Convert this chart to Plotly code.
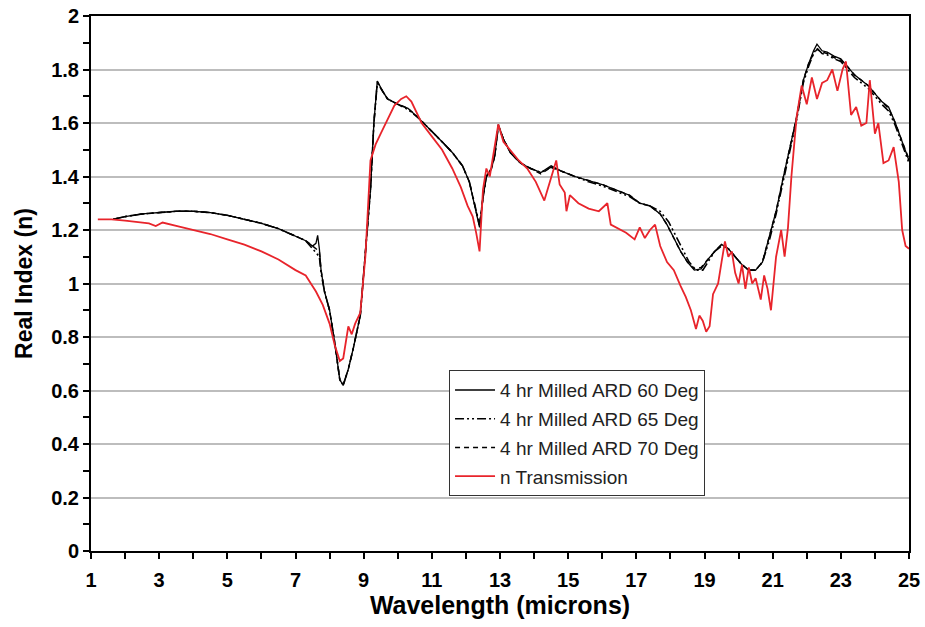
import plotly.graph_objects as go

# ---------------- data ----------------
wl_60 = [1.65, 2.0, 2.5, 3.0, 3.5, 4.0, 4.5, 5.0, 5.5, 6.0, 6.5, 7.0, 7.3, 7.5, 7.6, 7.65, 7.7,
         7.75, 7.85, 8.0, 8.15, 8.3, 8.4, 8.55, 8.7, 8.9, 9.05, 9.2, 9.3, 9.4, 9.55, 9.7, 10.0,
         10.3, 10.6, 11.0, 11.3, 11.6, 11.9, 12.1, 12.25, 12.4, 12.5, 12.6, 12.75, 12.85, 12.95,
         13.1, 13.3, 13.6, 13.9, 14.2, 14.5, 14.8, 15.2, 15.6, 16.0, 16.4, 16.8, 17.1, 17.4, 17.7,
         17.9, 18.1, 18.3, 18.5, 18.7, 18.9, 19.1, 19.3, 19.5, 19.7, 19.9, 20.1, 20.3, 20.5, 20.7,
         20.9, 21.1, 21.3, 21.5, 21.7, 21.9, 22.05, 22.2, 22.3, 22.45, 22.6, 22.8, 23.0, 23.2,
         23.4, 23.6, 23.8, 24.0, 24.2, 24.4, 24.6, 24.8, 25.0]
n_60 = [1.24, 1.25, 1.26, 1.265, 1.27, 1.27, 1.265, 1.255, 1.24, 1.225, 1.205, 1.175, 1.16, 1.14,
        1.15, 1.18, 1.13, 1.05, 0.97, 0.90, 0.78, 0.64, 0.62, 0.68, 0.76, 0.88, 1.10, 1.35, 1.60,
        1.757, 1.72, 1.69, 1.67, 1.655, 1.62, 1.57, 1.53, 1.49, 1.44, 1.38, 1.30, 1.21, 1.32, 1.40,
        1.43, 1.48, 1.595, 1.54, 1.49, 1.45, 1.43, 1.415, 1.44, 1.42, 1.40, 1.385, 1.37, 1.35,
        1.33, 1.30, 1.29, 1.26, 1.22, 1.17, 1.12, 1.08, 1.05, 1.055, 1.09, 1.12, 1.146, 1.13, 1.10,
        1.07, 1.05, 1.05, 1.08, 1.17, 1.27, 1.39, 1.50, 1.62, 1.76, 1.82, 1.87, 1.895, 1.87, 1.865,
        1.85, 1.84, 1.81, 1.78, 1.76, 1.74, 1.71, 1.68, 1.66, 1.60, 1.53, 1.46]

wl_65 = [1.65, 2.0, 2.5, 3.0, 3.5, 4.0, 4.5, 5.0, 5.5, 6.0, 6.5, 7.0, 7.3, 7.5, 7.7, 7.75, 7.85,
         8.0, 8.15, 8.3, 8.4, 8.55, 8.7, 8.9, 9.05, 9.2, 9.3, 9.4, 9.55, 9.7, 10.0, 10.3, 10.6,
         11.0, 11.3, 11.6, 11.9, 12.1, 12.25, 12.4, 12.5, 12.6, 12.75, 12.85, 12.95, 13.1, 13.3,
         13.6, 13.9, 14.2, 14.5, 14.8, 15.2, 15.6, 16.0, 16.4, 16.8, 17.1, 17.4, 17.7, 17.95, 18.15,
         18.35, 18.55, 18.75, 18.95, 19.1, 19.3, 19.5, 19.7, 19.9, 20.1, 20.3, 20.5, 20.7, 20.9,
         21.1, 21.3, 21.5, 21.7, 21.9, 22.05, 22.2, 22.3, 22.45, 22.6, 22.8, 23.0, 23.2, 23.4,
         23.6, 23.8, 24.0, 24.2, 24.4, 24.6, 24.8, 25.0]
n_65 = [1.24, 1.25, 1.26, 1.265, 1.27, 1.27, 1.265, 1.255, 1.24, 1.225, 1.205, 1.175, 1.16, 1.13,
        1.10, 1.04, 0.97, 0.90, 0.78, 0.64, 0.62, 0.68, 0.76, 0.88, 1.10, 1.35, 1.60, 1.75, 1.72,
        1.69, 1.67, 1.65, 1.62, 1.57, 1.53, 1.49, 1.44, 1.38, 1.30, 1.22, 1.32, 1.40, 1.43, 1.48,
        1.59, 1.54, 1.49, 1.45, 1.43, 1.415, 1.435, 1.42, 1.40, 1.38, 1.365, 1.345, 1.325, 1.30,
        1.29, 1.27, 1.23, 1.18, 1.13, 1.08, 1.05, 1.05, 1.08, 1.12, 1.14, 1.13, 1.10, 1.07, 1.05,
        1.05, 1.08, 1.16, 1.26, 1.38, 1.50, 1.61, 1.75, 1.81, 1.86, 1.88, 1.86, 1.855, 1.84, 1.83,
        1.80, 1.77, 1.75, 1.73, 1.70, 1.67, 1.645, 1.59, 1.52, 1.45]

wl_70 = [1.65, 2.0, 2.5, 3.0, 3.5, 4.0, 4.5, 5.0, 5.5, 6.0, 6.5, 7.0, 7.3, 7.5, 7.7, 7.75, 7.85,
         8.0, 8.15, 8.3, 8.4, 8.55, 8.7, 8.9, 9.05, 9.2, 9.3, 9.4, 9.55, 9.7, 10.0, 10.3, 10.6,
         11.0, 11.3, 11.6, 11.9, 12.1, 12.25, 12.4, 12.5, 12.6, 12.75, 12.85, 12.95, 13.1, 13.3,
         13.6, 13.9, 14.2, 14.5, 14.8, 15.2, 15.6, 16.0, 16.4, 16.8, 17.1, 17.4, 17.7, 17.9, 18.1,
         18.3, 18.5, 18.7, 18.9, 19.1, 19.3, 19.5, 19.7, 19.9, 20.1, 20.3, 20.5, 20.7, 20.9, 21.1,
         21.3, 21.5, 21.7, 21.9, 22.05, 22.2, 22.3, 22.45, 22.6, 22.8, 23.0, 23.2, 23.4, 23.6,
         23.8, 24.0, 24.2, 24.4, 24.6, 24.8, 25.0]
n_70 = [1.24, 1.25, 1.26, 1.265, 1.27, 1.27, 1.265, 1.255, 1.24, 1.225, 1.205, 1.175, 1.16, 1.14,
        1.12, 1.05, 0.97, 0.90, 0.78, 0.64, 0.62, 0.68, 0.76, 0.88, 1.10, 1.35, 1.60, 1.755, 1.72,
        1.69, 1.67, 1.655, 1.62, 1.57, 1.53, 1.49, 1.44, 1.38, 1.30, 1.215, 1.32, 1.40, 1.43, 1.48,
        1.59, 1.54, 1.49, 1.45, 1.43, 1.41, 1.435, 1.42, 1.40, 1.385, 1.37, 1.35, 1.33, 1.30, 1.29,
        1.26, 1.22, 1.17, 1.12, 1.08, 1.055, 1.06, 1.09, 1.12, 1.145, 1.13, 1.10, 1.07, 1.05, 1.05,
        1.08, 1.17, 1.27, 1.39, 1.50, 1.62, 1.76, 1.82, 1.86, 1.875, 1.865, 1.86, 1.845, 1.835,
        1.81, 1.78, 1.76, 1.74, 1.71, 1.68, 1.655, 1.60, 1.53, 1.465]

wl_tr = [1.2, 1.6, 2.0, 2.4, 2.7, 2.9, 3.1, 3.5, 4.0, 4.5, 5.0, 5.5, 6.0, 6.5, 7.0, 7.3, 7.6, 7.8,
         8.0, 8.15, 8.3, 8.4, 8.5, 8.55, 8.65, 8.75, 8.9, 9.05, 9.2, 9.35, 9.5, 9.7, 9.9, 10.1,
         10.25, 10.4, 10.7, 11.0, 11.3, 11.6, 11.85, 12.05, 12.2, 12.3, 12.4, 12.5, 12.6, 12.7,
         12.8, 12.95, 13.1, 13.3, 13.55, 13.8, 14.05, 14.3, 14.5, 14.65, 14.75, 14.9, 14.95, 15.05,
         15.3, 15.6, 15.9, 16.15, 16.25, 16.4, 16.7, 16.95, 17.1, 17.25, 17.4, 17.55, 17.7, 17.9,
         18.1, 18.3, 18.45, 18.6, 18.75, 18.85, 18.95, 19.05, 19.15, 19.25, 19.4, 19.5, 19.6, 19.7,
         19.8, 19.9, 20.0, 20.1, 20.2, 20.3, 20.4, 20.5, 20.65, 20.75, 20.85, 20.95, 21.1, 21.25,
         21.35, 21.45, 21.55, 21.7, 21.85, 22.0, 22.15, 22.3, 22.45, 22.6, 22.75, 22.9, 23.05,
         23.15, 23.3, 23.45, 23.6, 23.75, 23.85, 24.0, 24.1, 24.25, 24.4, 24.55, 24.7, 24.8, 24.9,
         25.0]
n_tr = [1.24, 1.24, 1.235, 1.23, 1.225, 1.215, 1.228, 1.215, 1.20, 1.185, 1.165, 1.145, 1.12, 1.09,
        1.05, 1.03, 0.97, 0.92, 0.85, 0.77, 0.71, 0.72, 0.80, 0.84, 0.81, 0.85, 0.89, 1.10, 1.46,
        1.52, 1.56, 1.61, 1.665, 1.69, 1.70, 1.68, 1.60, 1.55, 1.50, 1.43, 1.36, 1.29, 1.25, 1.19,
        1.12, 1.35, 1.43, 1.40, 1.48, 1.595, 1.53, 1.50, 1.46, 1.43, 1.38, 1.31, 1.40, 1.46, 1.37,
        1.34, 1.27, 1.33, 1.30, 1.28, 1.27, 1.30, 1.22, 1.21, 1.19, 1.165, 1.21, 1.17, 1.20, 1.22,
        1.14, 1.08, 1.05, 0.99, 0.95, 0.90, 0.83, 0.88, 0.86, 0.82, 0.84, 0.96, 1.00, 1.08, 1.157,
        1.10, 1.12, 1.04, 1.00, 1.07, 0.98, 1.06, 1.00, 1.02, 0.94, 1.03, 0.98, 0.90, 1.10, 1.20,
        1.10, 1.21, 1.40, 1.62, 1.74, 1.67, 1.77, 1.69, 1.75, 1.76, 1.80, 1.72, 1.80, 1.83, 1.63,
        1.66, 1.59, 1.60, 1.76, 1.56, 1.60, 1.45, 1.46, 1.51, 1.38, 1.20, 1.14, 1.13]

series_names = ["4 hr Milled ARD 60 Deg", "4 hr Milled ARD 65 Deg",
                "4 hr Milled ARD 70 Deg", "n Transmission"]

x_tick_vals = [1, 3, 5, 7, 9, 11, 13, 15, 17, 19, 21, 23, 25]
y_tick_vals = [0, 0.2, 0.4, 0.6, 0.8, 1.0, 1.2, 1.4, 1.6, 1.8, 2.0]
y_tick_text = ["0", "0.2", "0.4", "0.6", "0.8", "1", "1.2", "1.4", "1.6", "1.8", "2"]

# ---------------- figure ----------------
FONT = "Liberation Sans, Arial, sans-serif"
fig = go.Figure()
fig.add_trace(go.Scatter(x=wl_60, y=n_60, mode="lines", name=series_names[0], legendgroup="a",
                         line=dict(color="black", width=1.3)))
fig.add_trace(go.Scatter(x=wl_65, y=n_65, mode="lines", name=series_names[1], legendgroup="b",
                         line=dict(color="black", width=1.6, dash="9px,3px,2px,3px,2px,3px")))
fig.add_trace(go.Scatter(x=wl_70, y=n_70, mode="lines", name=series_names[2], legendgroup="c",
                         line=dict(color="black", width=1.5, dash="5px,4px")))
fig.add_trace(go.Scatter(x=wl_tr, y=n_tr, mode="lines", name=series_names[3], legendgroup="d",
                         line=dict(color="#e8242b", width=1.8)))

fig.update_layout(
    width=925, height=627,
    margin=dict(l=91, r=16, t=16, b=76, autoexpand=False),
    paper_bgcolor="white", plot_bgcolor="white",
    font=dict(family=FONT, color="black"),
    legend=dict(x=0.4377, y=0.338, xanchor="left", yanchor="top",
                bgcolor="white", bordercolor="#333", borderwidth=1,
                font=dict(family=FONT, size=19, color="#222"),
                itemwidth=40, traceorder="grouped", tracegroupgap=1),
    showlegend=True,
)
fig.update_xaxes(
    range=[1, 25], tickmode="array", tickvals=x_tick_vals, automargin=False,
    ticks="outside", ticklen=6, tickwidth=2, tickcolor="black", ticklabelstandoff=4,
    minor=dict(dtick=1, tick0=1, ticks="outside", ticklen=6, tickwidth=2,
               tickcolor="black", showgrid=False),
    showline=True, linewidth=2, linecolor="black", mirror=True,
    showgrid=False, zeroline=False,
    tickfont=dict(family=FONT, size=20, color="black", weight="bold"),
    title=dict(text="Wavelength (microns)", standoff=6,
               font=dict(family=FONT, size=25, color="black", weight="bold")),
)
fig.update_yaxes(
    range=[0, 2], tickmode="array", tickvals=y_tick_vals, ticktext=y_tick_text, automargin=False,
    ticks="outside", ticklen=6, tickwidth=2, tickcolor="black",
    minor=dict(dtick=0.1, tick0=0, ticks="outside", ticklen=6, tickwidth=2,
               tickcolor="black", showgrid=False),
    showline=True, linewidth=2, linecolor="black", mirror=True,
    showgrid=True, gridcolor="#bdbdbd", gridwidth=2, zeroline=False,
    tickfont=dict(family=FONT, size=20, color="black", weight="bold"),
    title=dict(text="Real Index (n)", standoff=12,
               font=dict(family=FONT, size=23, color="black", weight="bold")),
)

fig.write_html("out.html")
